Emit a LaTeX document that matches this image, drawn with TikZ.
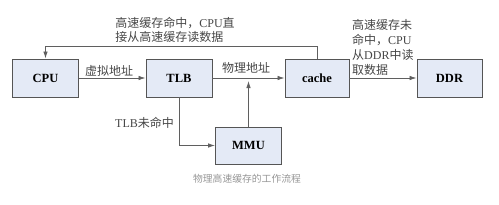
\documentclass[tikz,border=0pt]{standalone}
\usepackage{fontspec}
\setmainfont{Liberation Serif}
\newfontfamily\cjk{Noto Sans CJK SC}
\usetikzlibrary{arrows.meta}
\definecolor{boxfill}{RGB}{228,234,246}
\definecolor{boxline}{RGB}{85,85,85}
\definecolor{linegray}{RGB}{95,95,95}
\definecolor{textgray}{RGB}{70,70,70}
\definecolor{capgray}{RGB}{150,150,150}

\begin{document}
\begin{tikzpicture}[x=1pt,y=-1pt,
  every node/.style={font=\fontsize{12}{14}\selectfont,text=textgray},
  unit/.style={draw=boxline,line width=0.9pt,fill=boxfill,
               minimum width=66pt,minimum height=38pt,inner sep=0pt,
               font=\fontsize{12.5}{14}\selectfont\bfseries,text=black},
  flow/.style={draw=linegray,line width=0.8pt,
               -{Latex[length=7pt,width=4.5pt]}},
  lbl/.style={inner sep=0pt,align=left},
]
\useasboundingbox (0,0) rectangle (499,204);

%% Units
\node[unit] (cpu)   at (45.5,78)  {CPU};
\node[unit] (tlb)   at (179,78)   {TLB};
\node[unit,minimum width=64pt] (cache) at (317,78) {cache};
\node[unit,minimum width=65pt] (ddr)   at (449.5,78) {DDR};
\node[unit,minimum height=37pt] (mmu)  at (248.5,145.5) {MMU};

%% Connectors
\draw[flow] (cpu) -- (tlb);
\draw[flow] (tlb) -- (cache);
\draw[flow] (cache) -- (ddr);
\draw[flow] (cache.north) -- ++(0,-12) -| (cpu.north);
\draw[flow] (tlb.south) |- (mmu.west);
\coordinate (join) at (mmu.north |- tlb.east);
\draw[flow] (mmu.north) -- ([yshift=-3pt]join);

%% Labels
\node[lbl] (vaddr) at (109,71) {\cjk 虚拟地址};
\node[lbl] (paddr) at (246,68) {\cjk 物理地址};
\node[lbl] (tlbmiss) at (144.5,123) {TLB{\cjk 未命中}};
\node[lbl] (hit) at (175,30)
  {{\cjk 高速缓存命中，}CPU{\cjk 直}\\{\cjk 接从高速缓存读数据}};
\node[lbl,anchor=west,font=\fontsize{12}{15}\selectfont] (cmiss) at (352,47.5)
  {{\cjk 高速缓存未}\\{\cjk 命中，}CPU\\{\cjk 从}DDR{\cjk 中读}\\{\cjk 取数据}};

%% Caption
\node[lbl,text=capgray,font=\fontsize{9.8}{11}\selectfont] (cap) at (247,179)
  {\cjk 物理高速缓存的工作流程};

\end{tikzpicture}
\end{document}
